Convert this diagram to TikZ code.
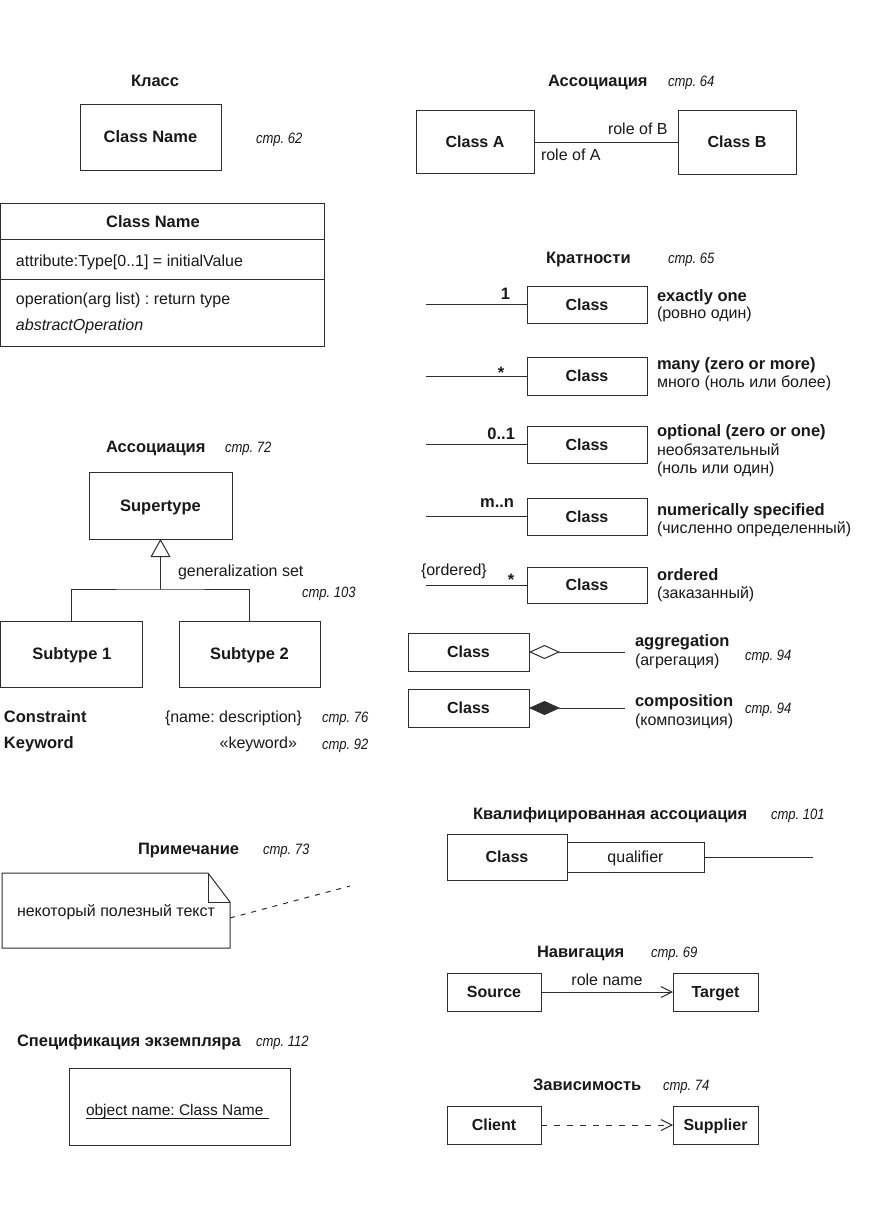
\documentclass[tikz,border=0pt]{standalone}
\usepackage{fontspec}
\setmainfont{Liberation Sans}
\usetikzlibrary{arrows.meta}
\definecolor{txt}{gray}{0.1}
\definecolor{linec}{gray}{0.18}
\newcommand{\pgref}[1]{\scalebox{0.87}[1]{#1}}
\frenchspacing
\begin{document}
\begin{tikzpicture}[x=1pt,y=-1pt,
  lc/.style={draw=linec, line width=1pt},
  mybox/.style={lc, rectangle, inner sep=0pt, outer sep=0pt, font=\bfseries\fontsize{16.5}{20}\selectfont, text=txt, text height=11.8pt, text depth=0pt},
  tr/.style={anchor=base west, inner sep=0pt, outer sep=0pt, font=\fontsize{16}{19}\selectfont, text=txt},
  tb/.style={tr, font=\bfseries\fontsize{16.5}{20}\selectfont},
  pg/.style={tr, font=\itshape\fontsize{15}{17}\selectfont},
  opentip/.style={-{Straight Barb[length=11pt,width=11pt,line width=1pt]}},
]
\fill[white] (0,0) rectangle (870,1232);
\useasboundingbox (0,0) rectangle (870,1232);

% ---------- Класс ----------
\node[tb] (tKlass) at (131,86) {Класс};
\node[mybox, minimum width=141, minimum height=66] (c1) at (150.5,137) {Class Name};
\node[pg] (p62) at (256,143) {\pgref{стр. 62}};

\node[lc, rectangle, inner sep=0pt, outer sep=0pt, minimum width=324, minimum height=143] (tbl) at (162.8,274.5) {};
\draw[lc] (tbl.west |- 0,239) -- (tbl.east |- 0,239);
\draw[lc] (tbl.west |- 0,279) -- (tbl.east |- 0,279);
\node[tb, anchor=base] (tblname) at (153,227) {Class Name};
\node[tr] (tattr) at (16,266) {attribute:Type[0..1] = initialValue};
\node[tr] (top1) at (16,304) {operation(arg list) : return type};
\node[tr, font=\itshape\fontsize{16}{19}\selectfont] (top2) at (16,330) {abstractOperation};

% ---------- Ассоциация (64) ----------
\node[tb] (tAss) at (548,86) {Ассоциация};
\node[pg] (p64) at (668,86) {\pgref{стр. 64}};
\node[mybox, minimum width=118, minimum height=63, font=\bfseries\fontsize{16}{20}\selectfont] (ca) at (475,141.5) {Class A};
\node[mybox, minimum width=118, minimum height=64, font=\bfseries\fontsize{16}{20}\selectfont] (cb) at (737,142) {Class B};
\draw[lc] (ca.east |- 0,142) -- (cb.west |- 0,142);
\node[tr] (roleB) at (608,134) {role of B};
\node[tr] (roleA) at (541,160) {role of A};

% ---------- Кратности ----------
\node[tb] (tKrat) at (546,263) {Кратности};
\node[pg] (p65) at (668,263) {\pgref{стр. 65}};

\tikzset{kbox/.style={mybox, minimum width=120, font=\bfseries\fontsize{16}{20}\selectfont}}
\node[kbox, minimum height=37] (k1) at (587,304.5) {Class};
\node[kbox, minimum height=38] (k2) at (587,376) {Class};
\node[kbox, minimum height=37] (k3) at (587,444.5) {Class};
\node[kbox, minimum height=37] (k4) at (587,516.5) {Class};
\node[kbox, minimum height=36] (k5) at (587,585) {Class};
\coordinate (f1) at (426,304.5);
\coordinate (f2) at (426,376);
\coordinate (f3) at (426,444.5);
\coordinate (f4) at (426,516.5);
\coordinate (f5) at (426,585);
\draw[lc] (f1) -- (k1.west);
\draw[lc] (f2) -- (k2.west);
\draw[lc] (f3) -- (k3.west);
\draw[lc] (f4) -- (k4.west);
\draw[lc] (f5) -- (k5.west);

\node[tb, anchor=base east] (m1) at (510,299) {1};
\node[tb, anchor=base] (m2) at (501,378) {*};
\node[tb, anchor=base east] (m3) at (515,439) {0..1};
\node[tb, anchor=base east] (m4) at (514,507) {m..n};
\node[tr] (m5a) at (421,575) {\{ordered\}};
\node[tb, anchor=base] (m5) at (511,585) {*};

\node[tb] (d1a) at (657,301) {exactly one};
\node[tr] (d1b) at (657,318) {(ровно один)};
\node[tb] (d2a) at (657,369) {many (zero or more)};
\node[tr] (d2b) at (657,387) {много (ноль или более)};
\node[tb] (d3a) at (657,436) {optional (zero or one)};
\node[tr] (d3b) at (657,455) {необязательный};
\node[tr] (d3c) at (657,473) {(ноль или один)};
\node[tb] (d4a) at (657,515) {numerically specified};
\node[tr] (d4b) at (657,533) {(численно определенный)};
\node[tb] (d5a) at (657,580) {ordered};
\node[tr] (d5b) at (657,598) {(заказанный)};

% ---------- aggregation / composition ----------
\node[kbox, minimum width=121, minimum height=38] (ag) at (468.5,652) {Class};
\node[kbox, minimum width=121, minimum height=38] (co) at (468.5,708) {Class};
\coordinate (agf) at (625,652);
\coordinate (cof) at (625,708);
\draw[lc, {Diamond[open,length=31pt,width=14pt,line width=1pt]}-] (ag.east) -- (agf);
\draw[lc, {Diamond[length=31pt,width=14pt,line width=1pt]}-, fill=linec] (co.east) -- (cof);
\node[tb] (agt) at (635,646) {aggregation};
\node[tr] (agr) at (635,665) {(агрегация)};
\node[pg] (p94a) at (745,660) {\pgref{стр. 94}};
\node[tb] (cot) at (635,706) {composition};
\node[tr] (cor) at (635,725) {(композиция)};
\node[pg] (p94b) at (745,713) {\pgref{стр. 94}};

% ---------- Ассоциация (72), generalization ----------
\node[tb] (tAss2) at (106,452) {Ассоциация};
\node[pg] (p72) at (225,452) {\pgref{стр. 72}};
\node[mybox, minimum width=143, minimum height=67] (sup) at (160.5,505.5) {Supertype};
\node[mybox, minimum width=142, minimum height=66] (s1) at (71.8,654) {Subtype 1};
\node[mybox, minimum width=141, minimum height=66] (s2) at (249.5,654) {Subtype 2};
\coordinate (gj) at (160.5,589);
\draw[lc, {Triangle[open,length=18pt,width=20pt,line width=1pt]}-] (sup.south) -- (gj);
\draw[lc] (s1.north) |- (gj) -| (s2.north);
\node[tr] (gset) at (178,576) {generalization set};
\node[pg] (p103) at (302,597) {\pgref{стр. 103}};

\node[tb] (tcons) at (4,722) {Constraint};
\node[tr] (cons) at (165,722) {\{name: description\}};
\node[pg] (p76) at (322,722) {\pgref{стр. 76}};
\node[tb] (tkey) at (4,748) {Keyword};
\node[tr, anchor=base east] (key) at (297,748) {«keyword»};
\node[pg] (p92) at (322,749) {\pgref{стр. 92}};

% ---------- Примечание ----------
\node[tb] (tNote) at (138,854) {Примечание};
\node[pg] (p73) at (263,854) {\pgref{стр. 73}};
\node[rectangle, inner sep=0pt, outer sep=0pt, minimum width=228, minimum height=75, font=\fontsize{16}{19}\selectfont, text=txt, text height=11.5pt, text depth=0pt] (note) at (116,910.5) {некоторый полезный текст};
\draw[lc, line join=miter] (note.north west) -- ([xshift=-22pt]note.north east) -- ([yshift=-29pt]note.north east) -- (note.south east) -- (note.south west) -- cycle;
\draw[lc] ([xshift=-22pt]note.north east) |- ([yshift=-29pt]note.north east);
\coordinate (nf) at (350,886);
\draw[lc, dash pattern=on 5pt off 6pt] ([yshift=-7.5pt]note.east) -- (nf);

% ---------- Спецификация экземпляра ----------
\node[tb] (tInst) at (17,1046) {Спецификация экземпляра};
\node[pg] (p112) at (256,1046) {\pgref{стр. 112}};
\node[lc, rectangle, inner sep=0pt, outer sep=0pt, minimum width=221, minimum height=77] (inst) at (179.5,1106.5) {};
\node[tr, font=\fontsize{15.5}{19}\selectfont] (objt) at (86,1115) {object name: Class Name};
\draw[draw=txt, line width=0.9pt] ([yshift=-3pt]objt.base west) -- ([yshift=-3pt,xshift=6pt]objt.base east);

% ---------- Квалифицированная ассоциация ----------
\node[tb] (tQual) at (473,819) {Квалифицированная ассоциация};
\node[pg] (p101) at (771,819) {\pgref{стр. 101}};
\node[kbox, minimum width=120, minimum height=46] (qc) at (507,857) {Class};
\node[mybox, minimum width=137, minimum height=30, font=\fontsize{16}{19}\selectfont] (qual) at (635.5,857) {qualifier};
\coordinate (qf) at (813,857);
\draw[lc] (qual.east) -- (qf);

% ---------- Навигация ----------
\node[tb] (tNav) at (537,957) {Навигация};
\node[pg] (p69) at (651,957) {\pgref{стр. 69}};
\node[kbox, minimum width=94, minimum height=38] (src) at (494,992) {Source};
\node[kbox, minimum width=85, minimum height=38] (tgt) at (715.5,992) {Target};
\draw[lc, opentip] (src.east) -- (tgt.west);
\node[tr, anchor=base] (rname) at (607,985) {role name};

% ---------- Зависимость ----------
\node[tb] (tDep) at (533,1090) {Зависимость};
\node[pg] (p74) at (663,1090) {\pgref{стр. 74}};
\node[kbox, minimum width=94, minimum height=38] (cli) at (494,1125) {Client};
\node[kbox, minimum width=85, minimum height=38] (spl) at (715.5,1125) {Supplier};
\draw[lc, opentip, dash pattern=on 6pt off 7pt] (cli.east) -- (spl.west);
\end{tikzpicture}
\end{document}
